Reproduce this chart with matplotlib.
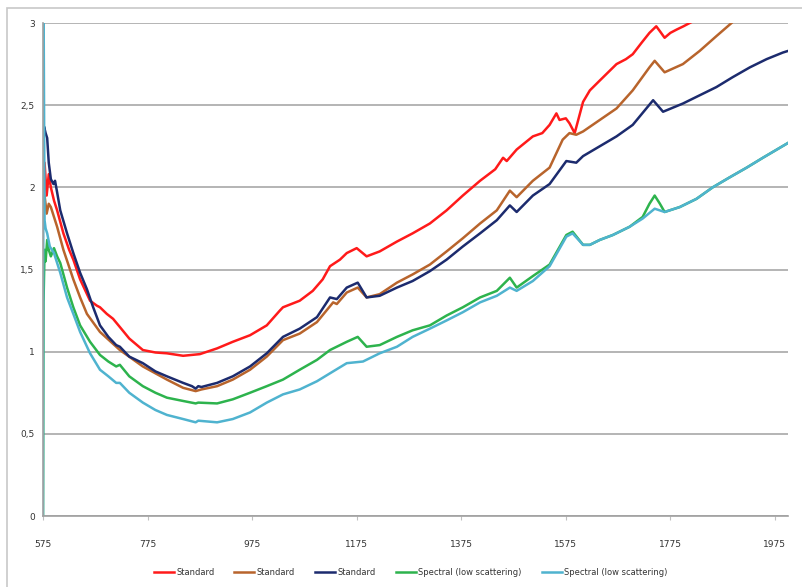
import matplotlib
matplotlib.use("Agg")
import matplotlib.pyplot as plt
from matplotlib.patches import Rectangle

# ---------------- data ----------------
red_x = [575, 578, 582, 586, 590, 596, 602, 614, 625, 633, 646, 665, 678, 684, 697, 709, 722, 740,
         766, 790, 812, 843, 875, 908, 938, 971, 1003, 1028, 1034, 1066, 1091, 1110, 1124, 1143,
         1156, 1175, 1194, 1219, 1252, 1282, 1315, 1347, 1378, 1411, 1440, 1455, 1462, 1481, 1512,
         1530, 1544, 1557, 1563, 1575, 1582, 1592, 1608, 1621, 1640, 1672, 1690, 1703, 1720, 1735,
         1748, 1755, 1764, 1775, 1787, 1800, 1818]
red_y = [2.05, 2.15, 1.95, 2.08, 2.00, 1.92, 1.86, 1.72, 1.62, 1.56, 1.44, 1.31, 1.28, 1.27, 1.23,
         1.20, 1.15, 1.08, 1.01, 0.995, 0.99, 0.975, 0.985, 1.02, 1.06, 1.10, 1.16, 1.25, 1.27, 1.31,
         1.37, 1.44, 1.52, 1.56, 1.60, 1.63, 1.58, 1.61, 1.67, 1.72, 1.78, 1.86, 1.95, 2.04, 2.11,
         2.18, 2.16, 2.23, 2.31, 2.33, 2.38, 2.45, 2.41, 2.42, 2.39, 2.33, 2.52, 2.59, 2.65, 2.75,
         2.78, 2.81, 2.88, 2.94, 2.98, 2.95, 2.91, 2.94, 2.96, 2.98, 3.01]

brown_x = [575, 578, 582, 586, 590, 596, 602, 614, 633, 646, 659, 684, 722, 766, 812, 843, 867, 878,
           908, 938, 971, 1003, 1034, 1066, 1099, 1130, 1137, 1156, 1177, 1194, 1219, 1252, 1282,
           1315, 1347, 1378, 1411, 1443, 1468, 1481, 1512, 1544, 1569, 1582, 1595, 1608, 1640, 1672,
           1703, 1735, 1745, 1764, 1799, 1831, 1863, 1892]
brown_y = [1.85, 1.95, 1.84, 1.90, 1.88, 1.82, 1.76, 1.62, 1.44, 1.33, 1.23, 1.12, 1.01, 0.91, 0.83,
           0.78, 0.76, 0.77, 0.79, 0.83, 0.89, 0.97, 1.07, 1.11, 1.18, 1.30, 1.29, 1.36, 1.39, 1.33,
           1.35, 1.42, 1.47, 1.53, 1.61, 1.69, 1.78, 1.86, 1.98, 1.94, 2.04, 2.12, 2.29, 2.33, 2.32,
           2.34, 2.41, 2.48, 2.59, 2.73, 2.77, 2.70, 2.75, 2.83, 2.92, 3.00]

navy_x = [575, 577, 580, 583, 586, 590, 595, 598, 602, 608, 621, 633, 646, 659, 671, 684, 700, 715,
          722, 740, 766, 790, 812, 843, 860, 867, 872, 878, 908, 938, 971, 1003, 1034, 1066, 1099,
          1124, 1137, 1156, 1177, 1194, 1219, 1252, 1282, 1315, 1347, 1378, 1411, 1443, 1468, 1481,
          1512, 1544, 1576, 1595, 1608, 1640, 1672, 1703, 1729, 1742, 1761, 1799, 1831, 1863, 1894,
          1927, 1959, 1990, 2000]
navy_y = [2.20, 2.37, 2.33, 2.30, 2.15, 2.05, 2.02, 2.04, 1.97, 1.86, 1.72, 1.60, 1.48, 1.38, 1.27,
          1.16, 1.09, 1.04, 1.03, 0.97, 0.93, 0.88, 0.85, 0.81, 0.79, 0.775, 0.79, 0.785, 0.81, 0.85,
          0.91, 0.99, 1.09, 1.14, 1.21, 1.33, 1.32, 1.39, 1.42, 1.33, 1.34, 1.39, 1.43, 1.49, 1.56,
          1.64, 1.72, 1.80, 1.89, 1.85, 1.95, 2.02, 2.16, 2.15, 2.19, 2.25, 2.31, 2.38, 2.48, 2.53,
          2.46, 2.51, 2.56, 2.61, 2.67, 2.73, 2.78, 2.82, 2.83]

green_x = [575, 576, 578, 580, 583, 586, 590, 596, 602, 608, 621, 633, 646, 665, 684, 700, 715, 722,
           740, 766, 790, 812, 843, 867, 872, 908, 938, 971, 1003, 1034, 1066, 1099, 1124, 1156,
           1177, 1194, 1219, 1252, 1282, 1315, 1347, 1378, 1411, 1443, 1468, 1481, 1512, 1544, 1576,
           1588, 1608, 1621, 1640, 1665, 1697, 1722, 1735, 1745, 1755, 1764, 1793, 1825, 1856, 1888,
           1921, 1952, 1984, 2000]
green_y = [0.0, 1.30, 1.62, 1.55, 1.68, 1.62, 1.58, 1.63, 1.58, 1.54, 1.39, 1.27, 1.16, 1.06, 0.98,
           0.94, 0.91, 0.92, 0.85, 0.79, 0.75, 0.72, 0.70, 0.685, 0.69, 0.685, 0.71, 0.75, 0.79, 0.83,
           0.89, 0.95, 1.01, 1.06, 1.09, 1.03, 1.04, 1.09, 1.13, 1.16, 1.22, 1.27, 1.33, 1.37, 1.45,
           1.39, 1.46, 1.53, 1.71, 1.73, 1.65, 1.65, 1.68, 1.71, 1.76, 1.82, 1.90, 1.95, 1.90, 1.85,
           1.88, 1.93, 2.00, 2.06, 2.12, 2.18, 2.24, 2.27]

blue_x = [575, 576, 578, 580, 583, 588, 596, 608, 621, 633, 646, 665, 684, 700, 715, 722, 740, 766,
          790, 812, 843, 867, 872, 908, 938, 971, 1003, 1034, 1066, 1099, 1130, 1156, 1187, 1219,
          1252, 1282, 1315, 1347, 1378, 1411, 1443, 1468, 1481, 1512, 1544, 1576, 1588, 1608, 1621,
          1640, 1665, 1697, 1722, 1745, 1764, 1793, 1825, 1856, 1888, 1921, 1952, 1984, 2000]
blue_y = [0.0, 3.20, 1.80, 1.75, 1.72, 1.64, 1.60, 1.48, 1.33, 1.23, 1.12, 0.99, 0.89, 0.85, 0.81,
          0.81, 0.75, 0.69, 0.645, 0.615, 0.59, 0.57, 0.58, 0.57, 0.59, 0.63, 0.69, 0.74, 0.77, 0.82,
          0.88, 0.93, 0.94, 0.99, 1.03, 1.09, 1.14, 1.19, 1.24, 1.30, 1.34, 1.39, 1.37, 1.43, 1.52,
          1.70, 1.72, 1.65, 1.65, 1.68, 1.71, 1.76, 1.81, 1.87, 1.85, 1.88, 1.93, 2.00, 2.06, 2.12,
          2.18, 2.24, 2.27]

series_labels = ["Standard", "Standard", "Standard",
                 "Spectral (low scattering)", "Spectral (low scattering)"]
x_ticks = [575, 775, 975, 1175, 1375, 1575, 1775, 1975]
y_ticks = [0, 0.5, 1, 1.5, 2, 2.5, 3]
y_tick_labels = ["0", "0,5", "1", "1,5", "2", "2,5", "3"]

colors = ["#FF1A1A", "#B8642C", "#1C2B6E", "#2DB34D", "#4FB3CF"]

# ---------------- figure ----------------
fig = plt.figure(figsize=(8.02, 5.87), dpi=100)
fig.patches.append(Rectangle((7 / 802, -0.05), 1.1, 1 - 8 / 587 + 0.05,
                             transform=fig.transFigure, fill=False,
                             edgecolor="#C8C8C8", linewidth=1.2))

ax = fig.add_axes([43 / 802, 1 - 516 / 587, (788 - 43) / 802, (516 - 23) / 587])

series = [(red_x, red_y), (brown_x, brown_y), (navy_x, navy_y),
          (green_x, green_y), (blue_x, blue_y)]
for (xs, ys), c, lab in zip(series, colors, series_labels):
    ax.plot(xs, ys, color=c, linewidth=1.8, label=lab, solid_joinstyle="round")

ax.set_xlim(575, 2000)
ax.set_ylim(0, 3)
ax.set_yticks(y_ticks)
ax.set_yticklabels(y_tick_labels)
ax.set_xticks(x_ticks)
ax.set_xticklabels([str(t) for t in x_ticks])

ax.grid(axis="y", color="#A8A8A8", linewidth=1.2)
ax.set_axisbelow(True)
for s in ["top", "right"]:
    ax.spines[s].set_visible(False)
for s in ["left", "bottom"]:
    ax.spines[s].set_color("#A0A0A0")
    ax.spines[s].set_linewidth(1.2)

ax.tick_params(axis="y", length=0, pad=6, labelsize=6.5, labelcolor="#333333")
ax.tick_params(axis="x", length=3, width=0.8, color="#C0C0C0", pad=14,
               labelsize=6.5, labelcolor="#333333")

handles, labels = ax.get_legend_handles_labels()
fig.legend(handles, labels, loc="center", bbox_to_anchor=(0.512, 0.024), ncol=5,
           frameon=False, fontsize=6, handlelength=2.4, handletextpad=0.3,
           columnspacing=2.4, labelcolor="#333333")

fig.savefig("out.png", dpi=100)
